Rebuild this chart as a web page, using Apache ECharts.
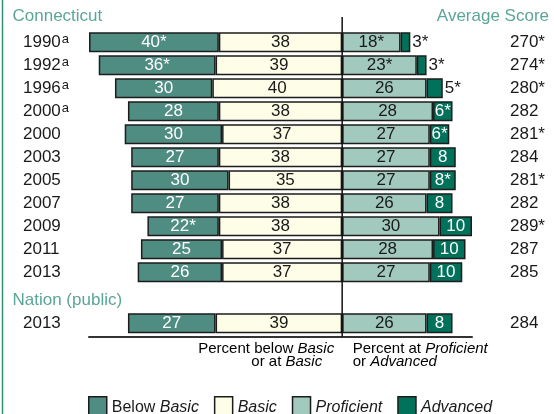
<!DOCTYPE html>
<html>
<head>
<meta charset="utf-8">
<script src="https://cdn.jsdelivr.net/npm/echarts@6/dist/echarts.min.js"></script>
<style>
  html, body { margin: 0; padding: 0; background: #fff; }
  #chart { width: 554px; height: 414px; }
</style>
</head>
<body>
<div id="chart"></div>
<script>
// Connecticut rows, top to bottom
const years = ["1990", "1992", "1996", "2000", "2000", "2003", "2005", "2007", "2009", "2011", "2013"];
const accommodations = [1, 1, 1, 1, 0, 0, 0, 0, 0, 0, 0];
const belowBasic = [40, 36, 30, 28, 30, 27, 30, 27, 22, 25, 26];
const belowBasicStar = [1, 1, 0, 0, 0, 0, 0, 0, 1, 0, 0];
const basic = [38, 39, 40, 38, 37, 38, 35, 38, 38, 37, 37];
const basicStar = [0, 0, 0, 0, 0, 0, 0, 0, 0, 0, 0];
const proficient = [18, 23, 26, 28, 27, 27, 27, 26, 30, 28, 27];
const proficientStar = [1, 1, 0, 0, 0, 0, 0, 0, 0, 0, 0];
const advanced = [3, 3, 5, 6, 6, 8, 8, 8, 10, 10, 10];
const advancedStar = [1, 1, 1, 1, 1, 0, 1, 0, 0, 0, 0];
const scores = ["270*", "274*", "280*", "282", "281*", "284", "281*", "282", "289*", "287", "285"];

// Nation (public)
const nationYears = ["2013"];
const nationBelowBasic = [27];
const nationBasic = [39];
const nationProficient = [26];
const nationAdvanced = [8];
const nationScores = ["284"];

const FONT = "Liberation Sans, Arial, sans-serif";
const colors = {
  below: "#4f8d82",
  basic: "#fdfde8",
  proficient: "#a2c9bd",
  advanced: "#00715a",
  title: "#5ba598",
  border: "#1c1c1c"
};

const chart = echarts.init(document.getElementById("chart"));

function barSeries(name, stack, axisIdx, values, stars, sign, color, labelColor) {
  return {
    name,
    type: "bar",
    stack,
    xAxisIndex: axisIdx,
    yAxisIndex: axisIdx * 2,
    barWidth: 20,
    clip: false,
    silent: true,
    itemStyle: { color, borderColor: colors.border, borderWidth: 1.5 },
    label: {
      show: true,
      position: "inside",
      color: labelColor,
      fontFamily: FONT,
      fontSize: 17,
      formatter: p => Math.abs(p.value) + (stars[p.dataIndex] ? "*" : "")
    },
    data: values.map(v => {
      const item = { value: sign * v };
      // small Advanced segments get their label outside, to the right
      if (name === "Advanced" && v <= 5) {
        item.label = { position: "right", color: "#1a1a1a", distance: 2 };
      }
      return item;
    })
  };
}

function rowSeries(stack, axisIdx, bb, bbStar, b, bStar, p, pStar, a, aStar) {
  return [
    barSeries("Basic", stack, axisIdx, b, bStar, -1, colors.basic, "#1a1a1a"),
    barSeries("Below Basic", stack, axisIdx, bb, bbStar, -1, colors.below, "#ffffff"),
    barSeries("Proficient", stack, axisIdx, p, pStar, 1, colors.proficient, "#1a1a1a"),
    barSeries("Advanced", stack, axisIdx, a, aStar, 1, colors.advanced, "#ffffff")
  ];
}

const zeros = [0];
const grid1 = { left: 89, width: 383, top: 30.7, height: 253 };
const grid2 = { left: 89, width: 383, top: 309.9, height: 26.8 };

const yearLabel = {
  fontFamily: FONT,
  fontSize: 17,
  color: "#1a1a1a",
  align: "left",
  margin: 66,
  rich: {
    y: { fontFamily: FONT, fontSize: 17, color: "#1a1a1a" },
    s: { fontFamily: FONT, fontSize: 13, color: "#1a1a1a", verticalAlign: "top", padding: [0, 0, 6, 1] }
  }
};
const scoreLabel = {
  fontFamily: FONT,
  fontSize: 17,
  color: "#1a1a1a",
  align: "left",
  margin: 38
};

const option = {
  animation: false,
  backgroundColor: "#ffffff",
  grid: [grid1, grid2],
  xAxis: [
    { gridIndex: 0, type: "value", min: -78, max: 40, show: false },
    {
      gridIndex: 1, type: "value", min: -78, max: 40,
      axisLine: { show: true, onZero: false, lineStyle: { color: "#333", width: 2 } },
      axisTick: { show: false }, axisLabel: { show: false }, splitLine: { show: false }
    }
  ],
  yAxis: [
    {
      gridIndex: 0, type: "category", inverse: true, data: years,
      axisLine: { show: false }, axisTick: { show: false },
      axisLabel: Object.assign({}, yearLabel, {
        formatter: (v, i) => "{y|" + v + "}" + (accommodations[i] ? "{s|a}" : "")
      })
    },
    {
      gridIndex: 0, type: "category", inverse: true, position: "right", data: scores,
      axisLine: { show: false }, axisTick: { show: false }, axisLabel: scoreLabel
    },
    {
      gridIndex: 1, type: "category", data: nationYears,
      axisLine: { show: false }, axisTick: { show: false },
      axisLabel: Object.assign({}, yearLabel, { formatter: v => "{y|" + v + "}" })
    },
    {
      gridIndex: 1, type: "category", position: "right", data: nationScores,
      axisLine: { show: false }, axisTick: { show: false }, axisLabel: scoreLabel
    }
  ],
  legend: {
    data: ["Below Basic", "Basic", "Proficient", "Advanced"],
    left: 88,
    top: 396,
    padding: 0,
    icon: "rect",
    itemWidth: 18,
    itemHeight: 21,
    itemGap: 15,
    itemStyle: { borderColor: colors.border, borderWidth: 1.5 },
    selectedMode: false,
    formatter: name => ({
      "Below Basic": "{n|Below }{i|Basic}",
      "Basic": "{i|Basic}",
      "Proficient": "{i|Proficient}",
      "Advanced": "{i|Advanced}"
    })[name],
    textStyle: {
      fontFamily: FONT,
      fontSize: 16,
      color: "#1a1a1a",
      rich: {
        n: { fontFamily: FONT, fontSize: 16, color: "#1a1a1a" },
        i: { fontFamily: FONT, fontSize: 16, fontStyle: "italic", color: "#1a1a1a" }
      }
    }
  },
  series: [
    ...rowSeries("ct", 0, belowBasic, belowBasicStar, basic, basicStar, proficient, proficientStar, advanced, advancedStar),
    ...rowSeries("nat", 1, nationBelowBasic, zeros, nationBasic, zeros, nationProficient, zeros, nationAdvanced, zeros)
  ]
};

chart.setOption(option);

// decorations placed from the axis scale
const zeroX = chart.convertToPixel({ xAxisIndex: 0 }, 0);
const axisBottom = grid2.top + grid2.height;
const captionRich = {
  n: { fontFamily: FONT, fontSize: 15, color: "#1a1a1a" },
  i: { fontFamily: FONT, fontSize: 15, fontStyle: "italic", color: "#1a1a1a" }
};
function caption(text, x, y, align) {
  return {
    type: "text", x, y, silent: true,
    style: { text, align, verticalAlign: "middle", rich: captionRich, fontFamily: FONT, fontSize: 15 }
  };
}
function heading(text, x, y, align) {
  return {
    type: "text", x, y, silent: true,
    style: { text, align, verticalAlign: "middle", fill: colors.title, fontFamily: FONT, fontSize: 17 }
  };
}

chart.setOption({
  graphic: {
    elements: [
      { type: "line", silent: true, shape: { x1: 2.5, y1: 0, x2: 2.5, y2: 414 }, style: { stroke: "#2f8f75", lineWidth: 1.5 } },
      { type: "line", silent: true, z: 10, shape: { x1: zeroX, y1: 17, x2: zeroX, y2: axisBottom }, style: { stroke: "#111", lineWidth: 1.5 } },
      heading("Connecticut", 12.5, 16, "left"),
      heading("Average Score", 549, 16, "right"),
      heading("Nation (public)", 12.5, 300.5, "left"),
      caption("{n|Percent below }{i|Basic}", zeroX - 8, 348.5, "right"),
      caption("{n|or at }{i|Basic}", zeroX - 20, 361.5, "right"),
      caption("{n|Percent at }{i|Proficient}", zeroX + 10.5, 348.5, "left"),
      caption("{n|or }{i|Advanced}", zeroX + 10.5, 361.5, "left")
    ]
  }
});
</script>
</body>
</html>
